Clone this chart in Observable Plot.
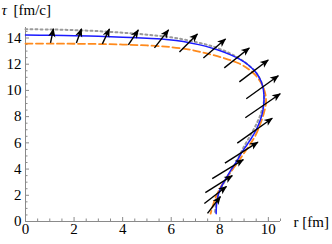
<!DOCTYPE html>
<html><head><meta charset="utf-8">
<script src="https://cdn.jsdelivr.net/npm/d3@7"></script>
<script src="https://cdn.jsdelivr.net/npm/@observablehq/plot@0.6"></script>
<style>html,body{margin:0;padding:0;background:#fff}#chart svg{display:block}</style>
</head><body><div id="chart"></div>
<script>
const xTicks = [0, 2, 4, 6, 8, 10];
const xMinor = [0.5, 1, 1.5, 2.5, 3, 3.5, 4.5, 5, 5.5, 6.5, 7, 7.5, 8.5, 9, 9.5, 10.5];
const yTicks = [0, 2, 4, 6, 8, 10, 12, 14];
const yMinor = [0.5, 1, 1.5, 2.5, 3, 3.5, 4.5, 5, 5.5, 6.5, 7, 7.5, 8.5, 9, 9.5, 10.5, 11, 11.5, 12.5, 13, 13.5, 14.5];

// blue solid curve
const rBlue   = [0, 1, 2, 3, 4, 5, 5.6, 6.2, 6.8, 7.4, 7.9, 8.4, 8.8, 9.2, 9.5, 9.7, 9.8, 9.82, 9.78, 9.68, 9.5, 9.3, 9.1, 8.9, 8.7, 8.45, 8.2, 8.0, 7.88, 7.85];
const tauBlue = [14.22, 14.21, 14.18, 14.13, 14.06, 13.98, 13.92, 13.8, 13.62, 13.38, 13.1, 12.75, 12.4, 11.9, 11.35, 10.7, 10.0, 9.25, 8.5, 7.8, 7.0, 6.35, 5.8, 5.25, 4.6, 3.9, 3.1, 2.4, 1.5, 0.6];
// orange dashed curve
const rOrange   = [0, 1, 2, 3, 4, 5, 6, 6.8, 7.5, 8.2, 8.8, 9.2, 9.5, 9.75, 9.88, 9.9, 9.82, 9.67, 9.45, 9.2, 8.9, 8.6, 8.3, 8.0, 7.8, 7.7, 7.62];
const tauOrange = [13.57, 13.57, 13.56, 13.54, 13.5, 13.43, 13.3, 13.1, 12.8, 12.45, 12.05, 11.6, 11.1, 10.4, 9.7, 9.0, 8.3, 7.45, 6.5, 5.75, 4.95, 4.15, 3.4, 2.5, 1.7, 1.1, 0.6];
// gray dotted curve
const rGray   = [0, 1, 2, 3, 4, 5, 6, 7, 7.8, 8.5, 9.1, 9.5, 9.72, 9.82, 9.82, 9.72, 9.55, 9.3, 9.05, 8.8, 8.55, 8.25, 8.0, 7.85, 7.8];
const tauGray = [14.66, 14.65, 14.6, 14.52, 14.4, 14.25, 14.05, 13.7, 13.3, 12.75, 12.05, 11.35, 10.6, 9.9, 9.2, 8.4, 7.6, 6.7, 5.9, 5.0, 4.1, 3.2, 2.35, 1.4, 0.6];

// arrows: centre point and vector (data units)
const arrowR    = [1.09, 2.2, 3.31, 4.44, 5.6, 6.71, 7.78, 8.7, 9.4, 9.75, 9.77, 9.44, 8.89, 8.33, 7.96, 7.82, 7.76];
const arrowTau  = [14.16, 14.16, 14.12, 14.04, 13.93, 13.62, 13.2, 12.48, 11.49, 10.24, 8.83, 6.93, 5.25, 4.0, 2.85, 2.02, 1.26];
const arrowDr   = [0.12, 0.21, 0.29, 0.41, 0.58, 0.74, 0.91, 1.03, 1.19, 1.32, 1.44, 1.44, 1.36, 1.28, 1.11, 0.91, 0.53];
const arrowDtau = [1.07, 1.07, 1.14, 1.14, 1.37, 1.37, 1.45, 1.52, 1.67, 1.75, 1.83, 1.9, 1.6, 1.45, 1.29, 1.29, 1.29];

const toPts = (rs, ts) => rs.map((r, i) => ({r, t: ts[i]}));
const blue = toPts(rBlue, tauBlue);
const orange = toPts(rOrange, tauOrange);
const gray = toPts(rGray, tauGray);
const arrows = arrowR.map((r, i) => ({r, t: arrowTau[i], dr: arrowDr[i], dt: arrowDtau[i]}));

const W = 332, H = 244, ML = 25, MR = 52, MT = 27, MB = 23;
const FW = W - ML - MR, FH = H - MT - MB;
const axisColor = "#8a8a8a";
const font = "'Liberation Serif', 'DejaVu Serif', serif";
const FS = 15;

function headMarker(color) {
  const m = d3.create("svg:marker")
    .attr("viewBox", "-9 -4 10 8").attr("markerWidth", 10).attr("markerHeight", 8)
    .attr("markerUnits", "userSpaceOnUse").attr("orient", "auto")
    .attr("refX", 0).attr("refY", 0).attr("overflow", "visible");
  m.append("path").attr("d", "M0.8,0L-8,-3.6L-5.8,0L-8,3.6Z").attr("fill", color).attr("stroke", "none");
  return m.node();
}

function build(marker) {
  return Plot.plot({
    width: W, height: H,
    marginLeft: ML, marginRight: MR, marginTop: MT, marginBottom: MB,
    style: {fontFamily: font, fontSize: FS + "px", color: "black", background: "white", overflow: "visible"},
    x: {domain: [0, 10.5], axis: null},
    y: {domain: [0, 14.8], axis: null},
    marks: [
      Plot.axisX({ticks: xTicks, tickSize: 0, tickPadding: 2, label: null, fontSize: FS}),
      Plot.axisY({ticks: yTicks, tickSize: 0, tickPadding: 4, label: null, fontSize: FS}),
      Plot.tickX(xTicks, {x: d => d, stroke: axisColor, insetTop: FH - 4}),
      Plot.tickX(xMinor, {x: d => d, stroke: axisColor, insetTop: FH - 2.5}),
      Plot.tickY(yTicks, {y: d => d, stroke: axisColor, insetRight: FW - 4}),
      Plot.tickY(yMinor, {y: d => d, stroke: axisColor, insetRight: FW - 2.5}),
      Plot.ruleY([0], {stroke: axisColor}),
      Plot.ruleX([0], {stroke: axisColor}),
      Plot.line(gray, {x: "r", y: "t", stroke: "#9a9a9a", strokeWidth: 2, strokeDasharray: "2,3", curve: "catmull-rom"}),
      Plot.line(orange, {x: "r", y: "t", stroke: "#ff8a1c", strokeWidth: 1.8, strokeDasharray: "7,3.5", curve: "catmull-rom"}),
      Plot.line(blue, {x: "r", y: "t", stroke: "#1a1aff", strokeWidth: 1.5, curve: "catmull-rom"}),
      Plot.link(arrows, {
        x1: d => d.r - d.dr / 2, y1: d => d.t - d.dt / 2,
        x2: d => d.r + d.dr / 2, y2: d => d.t + d.dt / 2,
        stroke: "black", strokeWidth: 1.4, markerEnd: marker
      }),
      Plot.text(["r [fm]"], {frameAnchor: "bottom-right", dx: 13, dy: 1, textAnchor: "start", lineAnchor: "middle", fontSize: FS}),
      Plot.text(["τ"], {frameAnchor: "top-left", dx: -24, dy: -17, textAnchor: "start", lineAnchor: "middle", fontSize: FS, fontStyle: "italic"}),
      Plot.text(["[fm/c]"], {frameAnchor: "top-left", dx: -12, dy: -17, textAnchor: "start", lineAnchor: "middle", fontSize: FS})
    ]
  });
}

let chart;
try { chart = build(headMarker); } catch (e) { chart = build("arrow"); }
document.getElementById("chart").appendChild(chart);
</script>
</body></html>
